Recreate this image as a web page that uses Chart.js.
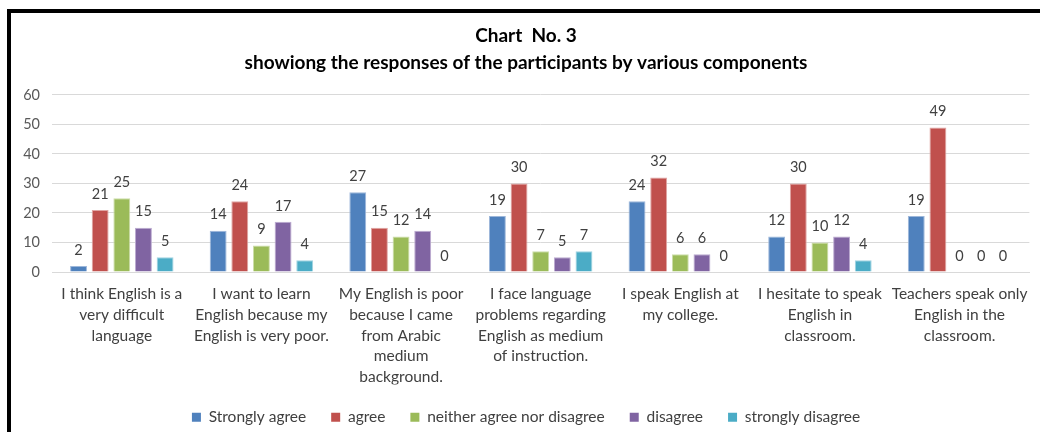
<!DOCTYPE html>
<html><head><meta charset="utf-8">
<script src="https://cdn.jsdelivr.net/npm/chart.js@4/dist/chart.umd.min.js"></script>
<style>
html,body{margin:0;padding:0;background:#fff;overflow:hidden;}
#wrap{position:relative;width:1040px;height:432px;}
#frame{position:absolute;left:7px;top:9px;width:1100px;height:500px;border-left:4px solid #000;border-top:4px solid #000;pointer-events:none;}
canvas{position:absolute;left:0;top:0;}
</style></head><body>
<div id="wrap"><canvas id="c" width="1040" height="432"></canvas><div id="frame"></div></div>
<script>
const categories = [
  ["I think English is a", "very difficult", "language"],
  ["I want to learn", "English because my", "English is very poor."],
  ["My English is poor", "because I came", "from Arabic", "medium", "background."],
  ["I face language", "problems regarding", "English as medium", "of instruction."],
  ["I speak English at", "my college."],
  ["I hesitate to speak", "English in", "classroom."],
  ["Teachers speak only", "English in the", "classroom."]
];
const stronglyAgree = [2, 14, 27, 19, 24, 12, 19];
const agree = [21, 24, 15, 30, 32, 30, 49];
const neither = [25, 9, 12, 7, 6, 10, 0];
const disagree = [15, 17, 14, 5, 6, 12, 0];
const stronglyDisagree = [5, 4, 0, 7, 0, 4, 0];
const yTicks = [0, 10, 20, 30, 40, 50, 60];
const titleLines = ["Chart  No. 3", "showiong the responses of the participants by various components"];

const FONT = "Lato, 'Open Sans', sans-serif";

const valueLabels = {
  id: 'valueLabels',
  afterDatasetsDraw(chart) {
    const ctx = chart.ctx;
    ctx.save();
    ctx.font = "14.5px " + FONT;
    ctx.fillStyle = "#404040";
    ctx.textAlign = "center";
    ctx.textBaseline = "middle";
    chart.data.datasets.forEach((ds, i) => {
      const meta = chart.getDatasetMeta(i);
      meta.data.forEach((el, j) => {
        ctx.fillText(String(ds.data[j]), el.x, el.y - 16);
      });
    });
    ctx.restore();
  }
};

new Chart(document.getElementById('c'), {
  type: 'bar',
  data: {
    labels: categories,
    datasets: [
      {label: 'Strongly agree', data: stronglyAgree, backgroundColor: '#4F81BD', borderColor: '#9DB7DA'},
      {label: 'agree', data: agree, backgroundColor: '#C0504D', borderColor: '#E0A5A3'},
      {label: 'neither agree nor disagree', data: neither, backgroundColor: '#9BBB59', borderColor: '#CCDDA9'},
      {label: 'disagree', data: disagree, backgroundColor: '#8064A2', borderColor: '#BBAAD0'},
      {label: 'strongly disagree', data: stronglyDisagree, backgroundColor: '#4BACC6', borderColor: '#A0D3E1'}
    ]
  },
  options: {
    responsive: false,
    animation: false,
    devicePixelRatio: 1,
    layout: {padding: {left: 19, right: 7, top: 0, bottom: -3}},
    datasets: {bar: {categoryPercentage: 0.775, barPercentage: 0.78, borderWidth: 1}},
    plugins: {
      title: {
        display: true,
        text: titleLines,
        color: '#000',
        font: {family: FONT, size: 19, weight: 'bold', lineHeight: 1.42},
        padding: {top: 22, bottom: 19}
      },
      legend: {
        position: 'bottom',
        labels: {
          boxWidth: 9, boxHeight: 9, padding: 25,
          color: '#404040',
          font: {family: FONT, size: 15.5},
          generateLabels(chart) {
            return chart.data.datasets.map((ds, i) => ({
              text: ds.label, fillStyle: ds.backgroundColor, strokeStyle: ds.backgroundColor,
              lineWidth: 0, hidden: false, datasetIndex: i, fontColor: '#404040'
            }));
          }
        }
      },
      tooltip: {enabled: false}
    },
    scales: {
      y: {
        min: 0, max: 60,
        afterBuildTicks(scale) { scale.ticks = yTicks.map(v => ({value: v})); },
        afterFit(scale) { scale.width = 33; },
        grid: {color: '#d9d9d9', drawTicks: false},
        border: {display: false},
        ticks: {padding: 12, color: '#595959', font: {family: FONT, size: 14.5}}
      },
      x: {
        afterFit(scale) { scale.height = 112.5; },
        grid: {display: false, drawTicks: false},
        border: {color: '#d9d9d9'},
        ticks: {padding: 12, color: '#404040', maxRotation: 0, autoSkip: false,
          font: {family: FONT, size: 15.5, lineHeight: 1.335}}
      }
    }
  },
  plugins: [valueLabels]
});
</script>
</body></html>
